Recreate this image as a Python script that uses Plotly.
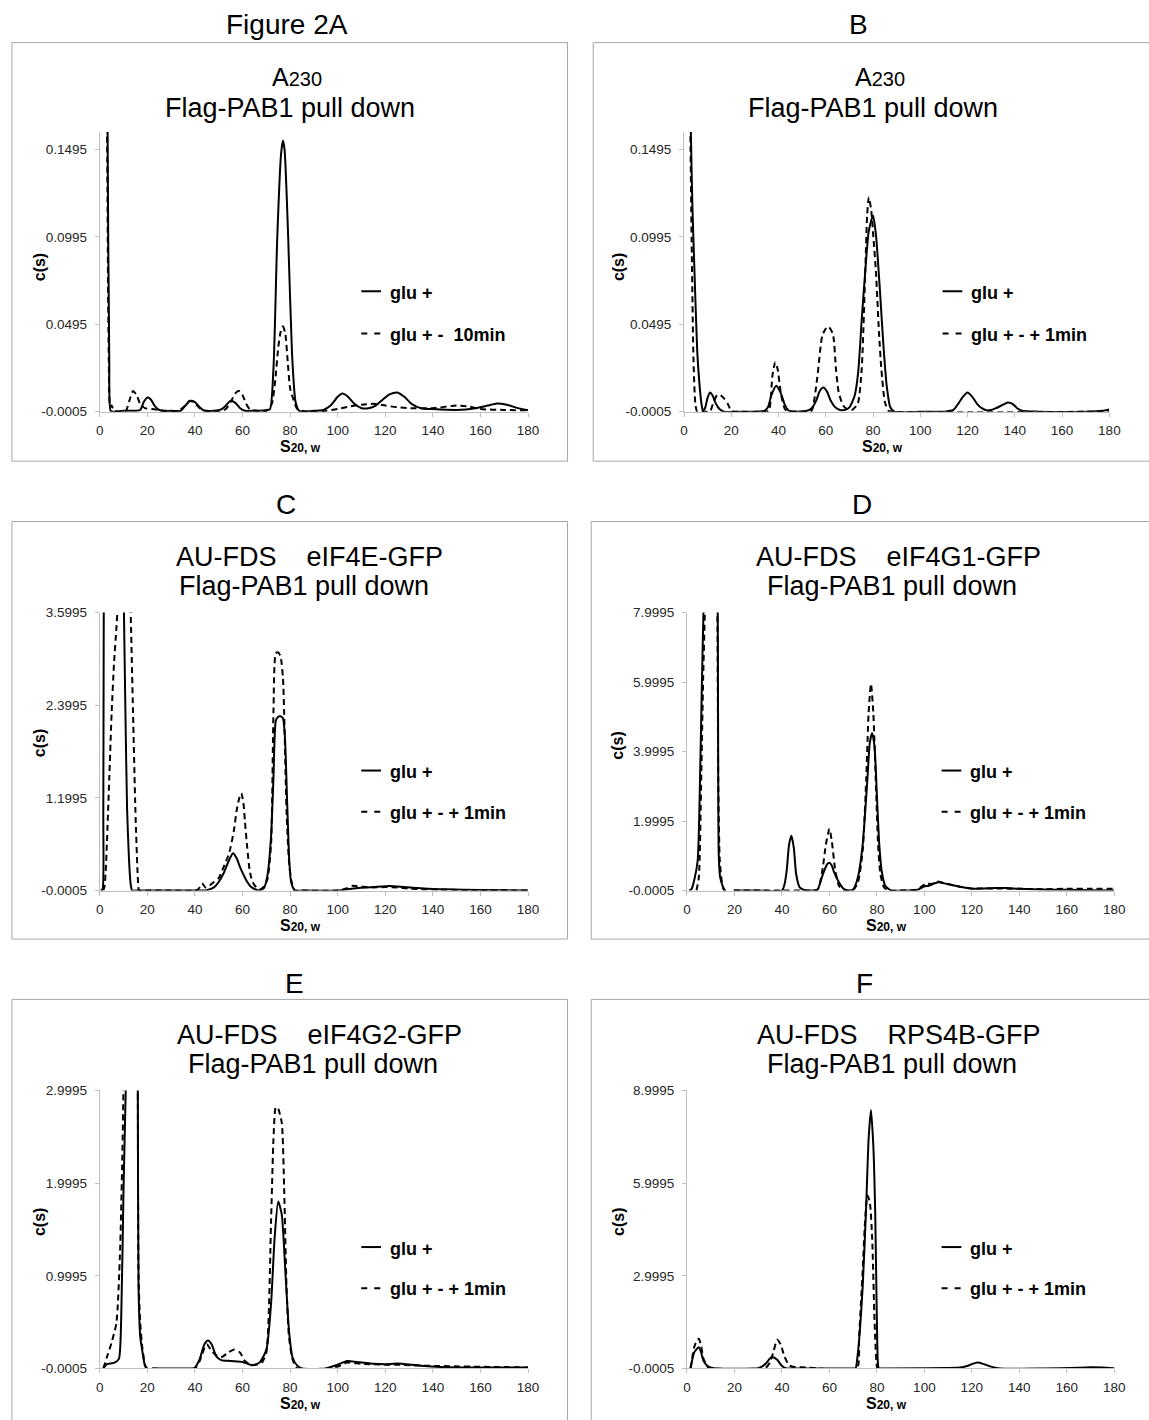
import plotly.graph_objects as go

# ---------------- data ----------------
X_TICKS = [0, 20, 40, 60, 80, 100, 120, 140, 160, 180]

# Panel A : A230, Flag-PAB1 pull down
A_YTICKS = [-0.0005, 0.0495, 0.0995, 0.1495]
A_YRANGE = [-0.0005, 0.1595]
A_glu_x = [2.8, 3.3, 4.0, 4.6, 6, 10, 15, 17, 18.5, 20, 21.5, 23, 25, 27, 30, 34, 36, 38, 40, 42, 44, 48, 51, 53, 55, 57, 59, 61, 65,
           69.5, 71.5, 73, 74.6, 76.2, 77, 77.7, 79.2, 80.8, 82.3, 83.8, 86, 90, 94, 97, 100, 102, 104, 107, 110, 113, 116, 119,
           122, 125, 128, 131, 135, 140, 150, 158, 163, 167, 171, 175, 180]
A_glu_y = [0.5, 0.16, 0.03, 0.0, -0.0005, 0.0, 0.0, 0.0005, 0.005, 0.0076, 0.0065, 0.003, 0.0005, -0.0003, 0.0, 0.0, 0.003, 0.0057,
           0.005, 0.002, 0.0, 0.0, 0.0008, 0.003, 0.0057, 0.0045, 0.0015, 0.0, 0.0,
           0.0003, 0.0008, 0.024, 0.099, 0.147, 0.1546, 0.149, 0.099, 0.033, 0.005, 0.0, -0.0005, 0.0, 0.0005, 0.003, 0.008,
           0.0099, 0.0085, 0.004, 0.0015, 0.0015, 0.003, 0.0065, 0.0095, 0.0105, 0.008, 0.004, 0.0015, 0.001, 0.0005, 0.0015,
           0.003, 0.0042, 0.0035, 0.0018, 0.0003]
A_10min_x = [2.6, 3.1, 3.8, 4.4, 5, 6, 8, 11, 12.5, 14, 15.5, 17, 19, 22, 25, 28, 33, 35.5, 37.5, 39.5, 42, 45, 50, 53, 55, 57, 58.5,
             60, 61.5, 63, 66, 70, 72.3, 73.8, 75, 76, 77, 78, 79, 80, 81.5, 83, 85, 88, 95, 100, 105, 110, 115, 120, 125, 130,
             140, 150, 155, 160, 170, 180]
A_10min_y = [0.5, 0.16, 0.03, 0.002, 0.003, 0.0, -0.0005, 0.0, 0.006, 0.0114, 0.009, 0.004, 0.0015, 0.001, 0.0005, 0.0, 0.0, 0.0025,
             0.0055, 0.005, 0.0015, 0.0, -0.0005, 0.001, 0.005, 0.010, 0.0114, 0.009, 0.004, 0.001, 0.0, 0.0, 0.004, 0.018,
             0.036, 0.045, 0.0483, 0.044, 0.028, 0.013, 0.006, 0.001, 0.0, -0.0005, 0.0, 0.001, 0.0025, 0.0035, 0.004, 0.003,
             0.002, 0.0015, 0.0015, 0.003, 0.0025, 0.001, 0.0005, 0.0003]

# Panel B : A230, Flag-PAB1 pull down
B_YTICKS = [-0.0005, 0.0495, 0.0995, 0.1495]
B_YRANGE = [-0.0005, 0.1595]
B_glu_x = [2.4, 2.9, 3.6, 4.4, 5.6, 6.5, 7.3, 8.0, 9, 10, 11, 12, 13.5, 15, 17, 25, 34, 35.5, 37, 39, 41, 42.5, 44, 46, 52, 54, 56,
           57.5, 59, 60.5, 62, 64, 66, 68, 70, 72.2, 73.7, 75.2, 76.7, 78.2, 80, 81.2, 82.8, 84.3, 85.8, 87.3, 89, 100, 110, 114,
           116, 118, 120, 122, 124, 126, 128, 130, 132, 135, 137, 139, 141, 143, 150, 170, 177, 180]
B_glu_y = [0.3, 0.16, 0.115, 0.081, 0.034, 0.016, 0.005, -0.0003, 0.002, 0.0075, 0.0105, 0.009, 0.004, 0.001, -0.0005, -0.0005,
           0.0, 0.002, 0.009, 0.0143, 0.010, 0.004, 0.0005, -0.0005, 0.0, 0.0015, 0.006, 0.0115, 0.0133, 0.011, 0.006, 0.002,
           0.0005, 0.0005, 0.002, 0.0086, 0.022, 0.052, 0.080, 0.103, 0.1117, 0.101, 0.071, 0.039, 0.014, 0.002, -0.0005,
           -0.0005, -0.0005, 0.0005, 0.004, 0.008, 0.0105, 0.008, 0.004, 0.0015, 0.0003, 0.0005, 0.0015, 0.0035, 0.0048, 0.004,
           0.0015, 0.0, -0.0005, -0.0005, 0.0, 0.0008]
B_1min_x = [2.2, 2.7, 3.3, 4.0, 4.8, 5.6, 8, 11, 12.5, 14, 15.5, 17, 18.5, 20, 22, 34, 35.9, 37.4, 38.6, 39.6, 41.1, 42.7, 44, 52, 54,
            56.3, 58.5, 60, 61.1, 63, 64.3, 65.4, 67.3, 69, 71, 73.5, 75.2, 76.7, 77.5, 78.2, 79.2, 80.2, 81.2, 82.5, 83.5, 85,
            86.5, 88, 180]
B_1min_y = [0.3, 0.16, 0.09, 0.03, 0.004, -0.0005, -0.0005, -0.0003, 0.005, 0.009, 0.0088, 0.007, 0.004, 0.0, -0.0005, -0.0005,
            0.0, 0.02, 0.0278, 0.024, 0.009, 0.001, 0.0, -0.0005, 0.0, 0.018, 0.043, 0.047, 0.0483, 0.044, 0.024, 0.011, 0.003,
            0.001, 0.0005, 0.004, 0.024, 0.08, 0.112, 0.1221, 0.115, 0.098, 0.08, 0.045, 0.024, 0.005, 0.0, -0.0005, -0.0005]

# Panel C : AU-FDS eIF4E-GFP
C_YTICKS = [-0.0005, 1.1995, 2.3995, 3.5995]
C_YRANGE = [-0.0005, 3.5995]
C_glu_x = [0.5, 1.2, 1.5, 1.8, 2.5, 5, 8, 10, 10.8, 11.5, 12.3, 13, 13.6, 15, 25, 40, 45, 48, 50, 52, 54, 56, 57.5, 59, 60.5, 62,
           63.5, 65, 67, 69, 70.5, 72, 73, 74, 75, 76, 77, 77.8, 78.8, 79.7, 80.5, 82, 85, 100, 105, 110, 115, 122, 128, 135, 145,
           160, 180]
C_glu_y = [0.0, 0.02, 1.0, 5.0, 8.0, 10.0, 9.0, 4.0, 2.3, 1.05, 0.4, 0.08, 0.0, -0.0005, 0.0, 0.0, 0.005, 0.04, 0.11, 0.22, 0.37,
           0.483, 0.42, 0.3, 0.2, 0.11, 0.05, 0.02, 0.0, 0.03, 0.2, 0.7, 1.45, 2.2, 2.25, 2.256, 2.23, 2.0, 1.1, 0.35, 0.1, 0.0,
           -0.0005, 0.0, 0.02, 0.035, 0.045, 0.059, 0.045, 0.03, 0.015, 0.008, 0.002]
C_1min_x = [1.5, 2, 2.5, 3, 4, 5, 6, 7, 7.5, 8.5, 10.5, 12.5, 13, 14, 15, 16, 16.5, 17.5, 30, 40, 41.5, 43, 44.5, 46, 48, 50, 52,
            54, 55, 56.5, 57.5, 58.5, 59.5, 60.5, 61, 62, 63, 64, 65, 67, 69, 70.5, 72, 73, 74, 75, 76, 77, 77.5, 78.5, 79.5, 80.5,
            82, 85, 100, 104, 106, 110, 115, 120, 125, 130, 140, 160, 180]
C_1min_y = [0.0, 0.05, 0.25, 0.6, 1.45, 2.3, 2.94, 3.4, 3.65, 4.5, 5.0, 4.2, 3.6, 2.3, 1.03, 0.17, 0.0, -0.0005, 0.0, 0.0, 0.02,
            0.09, 0.04, 0.06, 0.11, 0.16, 0.30, 0.45, 0.56, 0.8, 1.03, 1.18, 1.26, 1.1, 0.9, 0.55, 0.26, 0.13, 0.07, 0.01, 0.05,
            0.15, 0.6, 2.3, 3.07, 3.083, 3.03, 2.75, 2.3, 1.03, 0.39, 0.13, 0.0, -0.0005, 0.0, 0.03, 0.06, 0.05, 0.04, 0.045,
            0.04, 0.025, 0.012, 0.005, 0.0]

# Panel D : AU-FDS eIF4G1-GFP
D_YTICKS = [-0.0005, 1.9995, 3.9995, 5.9995, 7.9995]
D_YRANGE = [-0.0005, 7.9995]
D_glu_x = [1, 2, 3, 4.5, 5.5, 6.3, 7, 8, 10, 12, 12.8, 13.1, 13.4, 14, 15, 16, 16.5, None, 19.7, 30, 40, 41, 42, 43, 44, 45, 46,
           47.5, 50, 52, 55, 57, 59, 60, 61, 62, 64, 66, 68, 70, 72, 74, 76, 77, 78, 79, 80, 81, 82, 83.5, 86, 90, 97, 100, 102,
           104, 106, 110, 115, 120, 125, 130, 135, 140, 150, 160, 170, 180]
D_glu_y = [-0.0005, 0.05, 0.28, 0.85, 3.2, 6.0, 8.2, 11.0, 13.0, 12.0, 10.0, 5.0, 1.0, 0.37, 0.14, 0.0, -0.0005, None, -0.0005,
           0.0, 0.0, 0.15, 0.57, 1.32, 1.577, 1.23, 0.47, 0.09, 0.0, -0.0005, 0.03, 0.42, 0.75, 0.80, 0.72, 0.52, 0.24, 0.05,
           0.0, 0.03, 0.38, 1.32, 3.21, 4.25, 4.53, 4.15, 2.74, 1.32, 0.57, 0.14, 0.0, -0.0005, 0.02, 0.12, 0.14, 0.2, 0.24,
           0.18, 0.11, 0.05, 0.06, 0.075, 0.07, 0.05, 0.03, 0.02, 0.01, 0.0]
D_1min_x = [4, 5, 6, 6.8, 7.5, 8.5, 10.5, 12.5, 13.2, 13.8, 14.5, 15.3, 16, None, 19.7, 40, 50, 55, 57, 58.5, 60, 61, 62.5, 64, 66,
            70, 72, 74, 75.5, 76.5, 77.5, 78.5, 79.5, 80.5, 81.5, 83, 85, 90, 97, 101, 103, 105, 108, 115, 120, 130, 140, 150,
            160, 170, 180]
D_1min_y = [-0.0005, 0.38, 3.2, 6.04, 7.93, 11.0, 13.0, 10.0, 3.0, 0.9, 0.35, 0.05, -0.0005, None, -0.0005, 0.0, 0.0, 0.03, 0.57,
            1.32, 1.775, 1.42, 0.57, 0.14, 0.0, 0.02, 0.24, 1.13, 3.21, 5.1, 5.95, 5.1, 3.21, 1.32, 0.47, 0.09, 0.0, -0.0005,
            0.03, 0.21, 0.18, 0.26, 0.22, 0.11, 0.06, 0.06, 0.05, 0.04, 0.05, 0.05, 0.05]

# Panel E : AU-FDS eIF4G2-GFP
E_YTICKS = [-0.0005, 0.9995, 1.9995, 2.9995]
E_YRANGE = [-0.0005, 2.9995]
E_glu_x = [1.5, 3, 6, 8, 9, 10, 11, 12, 14, 15.5, 16, 16.3, 17, 18, 19, 20, None, 22, 30, 39, 40, 42, 44, 45.5, 47, 49, 51, 55,
           60, 64, 67, 70, 72, 73.5, 75, 76.5, 78, 79.5, 81, 83, 85, 95, 100, 104, 108, 115, 120, 125, 135, 150, 165, 180]
E_glu_y = [-0.0005, 0.046, 0.06, 0.1, 0.52, 1.94, 3.1, 5.0, 6.0, 5.0, 3.0, 0.88, 0.35, 0.17, 0.03, -0.0005, None, -0.0005,
           -0.0005, 0.0, 0.01, 0.1, 0.26, 0.30, 0.26, 0.13, 0.09, 0.08, 0.07, 0.035, 0.06, 0.2, 0.7, 1.41, 1.80, 1.66, 1.05,
           0.42, 0.12, 0.03, -0.0005, -0.0005, 0.04, 0.08, 0.07, 0.05, 0.045, 0.053, 0.03, 0.01, 0.01, 0.01]
E_1min_x = [1.5, 3, 5, 7, 8.5, 9.5, 10, 11, 13, 15.5, 16, 16.3, 17, 18, 19.5, 20, None, 22, 40, 42, 44, 45, 47, 49, 51, 54, 56.5,
            59, 61, 64, 68, 70, 72, 73, 74, 75, 76.5, 77.5, 78.5, 79.5, 81, 83, 95, 100, 104, 110, 120, 125, 135, 180]
E_1min_y = [-0.0005, 0.12, 0.28, 0.49, 1.23, 2.29, 3.1, 5.0, 6.0, 5.0, 3.0, 1.0, 0.5, 0.2, 0.0, -0.0005, None, -0.0005, 0.0,
            0.08, 0.22, 0.26, 0.19, 0.14, 0.12, 0.17, 0.205, 0.17, 0.08, 0.035, 0.06, 0.17, 1.59, 2.47, 2.82, 2.80, 2.65, 1.94,
            0.88, 0.35, 0.1, 0.0, -0.0005, 0.02, 0.064, 0.05, 0.04, 0.04, 0.03, 0.01]

# Panel F : AU-FDS RPS4B-GFP
F_YTICKS = [-0.0005, 2.9995, 5.9995, 8.9995]
F_YRANGE = [-0.0005, 8.9995]
F_glu_x = [1.5, 3, 4, 5, 6, 7, 9, 12, 28, 30, 33, 35, 36, 38, 40, 42, 45, 70, 71, 72, 74, 75.5, 76.5, 77.5, 78.5, 79.3, 79.9, 80.4,
           80.8, 82, 115, 118, 120, 122.5, 125, 128, 132, 150, 165, 170, 175, 180]
F_glu_y = [-0.0005, 0.51, 0.62, 0.69, 0.51, 0.24, 0.06, -0.0005, -0.0005, 0.01, 0.14, 0.33, 0.37, 0.28, 0.08, 0.0, -0.0005,
           -0.0005, 0.0, 0.51, 2.63, 5.29, 7.41, 8.37, 7.2, 5.0, 2.0, 0.2, -0.0005, -0.0005, 0.03, 0.08, 0.14, 0.19, 0.14, 0.06,
           0.0, -0.0005, 0.02, 0.04, 0.03, 0.0]
F_1min_x = [1.5, 3, 4, 5, 6, 7, 9, 12, 33, 35, 36.5, 38, 39.5, 41, 43, 45, 50, 55, 71.5, 72.5, 74, 75, 76, 77, 78, 79, 79.8, 80.3,
            180]
F_1min_y = [-0.0005, 0.67, 0.88, 0.96, 0.72, 0.30, 0.03, -0.0005, 0.01, 0.2, 0.56, 0.93, 0.77, 0.40, 0.1, 0.05, 0.03, 0.0,
            -0.0005, 1.04, 3.16, 4.75, 5.6, 5.39, 4.22, 1.57, 0.2, -0.0005, -0.0005]

SP = "\u00a0" * 4
PANEL_LABELS = ["Figure 2A", "B", "C", "D", "E", "F"]
TITLE_LINE1 = ["A<span style='font-size:20px'>230</span>", "A<span style='font-size:20px'>230</span>",
               "AU-FDS" + SP + "eIF4E-GFP", "AU-FDS" + SP + "eIF4G1-GFP",
               "AU-FDS" + SP + "eIF4G2-GFP", "AU-FDS" + SP + "RPS4B-GFP"]
TITLE_LINE2 = "Flag-PAB1 pull down"
LEG_SOLID = "glu +"
LEG_DASH = ["glu + -\u00a0 10min", "glu + - + 1min", "glu + - + 1min", "glu + - + 1min", "glu + - + 1min", "glu + - + 1min"]

SERIES = [
    (A_glu_x, A_glu_y, A_10min_x, A_10min_y, A_YTICKS, A_YRANGE),
    (B_glu_x, B_glu_y, B_1min_x, B_1min_y, B_YTICKS, B_YRANGE),
    (C_glu_x, C_glu_y, C_1min_x, C_1min_y, C_YTICKS, C_YRANGE),
    (D_glu_x, D_glu_y, D_1min_x, D_1min_y, D_YTICKS, D_YRANGE),
    (E_glu_x, E_glu_y, E_1min_x, E_1min_y, E_YTICKS, E_YRANGE),
    (F_glu_x, F_glu_y, F_1min_x, F_1min_y, F_YTICKS, F_YRANGE),
]

# ---------------- layout (pixel geometry of the page) ----------------
W, H = 1149, 1420
FONT = "Liberation Sans, Arial, sans-serif"

LAYOUT_PX = [
    dict(px=(97, 531), py=(126.3, 409), box=(8, 36, 571, 459), lab=(287, 17.5), t1=(297, 71), t2=(290, 102),
         leg=(362, 382, 389, 287.3, 330), ylab=(35.5, 263), xlab=(300, 444)),
    dict(px=(689, 1120), py=(126.3, 409), box=(597, 36, 1170, 459), lab=(866, 17.5), t1=(887.5, 71), t2=(881, 102),
         leg=(951, 971, 978, 287.3, 330), ylab=(622, 263), xlab=(890.5, 444)),
    dict(px=(97, 531), py=(612, 893), box=(8, 520, 571, 942), lab=(286, 503), t1=(310, 556), t2=(304, 585),
         leg=(362, 382, 389, 771.7, 813.3), ylab=(35.5, 744), xlab=(300, 928)),
    dict(px=(692, 1125), py=(612, 893), box=(595, 520, 1170, 942), lab=(869, 503), t1=(906.6, 556), t2=(900, 585),
         leg=(950, 970, 977, 771.7, 813.3), ylab=(622, 746.7), xlab=(894.5, 928)),
    dict(px=(97, 531), py=(1095, 1376), box=(8, 1003, 571, 1440), lab=(294, 987), t1=(319.7, 1039), t2=(313, 1068.3),
         leg=(362, 382, 389, 1253.3, 1295), ylab=(35.5, 1228), xlab=(300, 1411)),
    dict(px=(692, 1125), py=(1095, 1376), box=(595, 1003, 1170, 1440), lab=(872, 987), t1=(906.6, 1039), t2=(900, 1068.3),
         leg=(950, 970, 977, 1253.3, 1295), ylab=(622, 1228), xlab=(894.5, 1411)),
]


def fx(p):
    return p / W


def fy(p):
    return 1 - p / H


def fmt(v):
    return f"{v:.4f}"


fig = go.Figure()
shapes = []
annotations = []
AXC = "#bfbfbf"
TICKC = "#262626"

for i, (sx, sy, dx, dy, yt, yr) in enumerate(SERIES):
    n = i + 1
    xa = "x" if n == 1 else f"x{n}"
    ya = "y" if n == 1 else f"y{n}"
    L = LAYOUT_PX[i]
    fig.add_trace(go.Scatter(x=sx, y=sy, xaxis=xa, yaxis=ya, mode="lines",
                             line=dict(color="black", width=2, shape="spline", smoothing=0.6),
                             showlegend=False, hoverinfo="skip"))
    fig.add_trace(go.Scatter(x=dx, y=dy, xaxis=xa, yaxis=ya, mode="lines",
                             line=dict(color="black", width=2, dash="6px,4px", shape="spline", smoothing=0.6),
                             showlegend=False, hoverinfo="skip"))
    xkey = "xaxis" if n == 1 else f"xaxis{n}"
    ykey = "yaxis" if n == 1 else f"yaxis{n}"
    fig.update_layout(**{
        xkey: dict(domain=[fx(L["px"][0]), fx(L["px"][1])], anchor=ya, range=[0, 180], tickvals=X_TICKS,
                   showline=True, linecolor=AXC, linewidth=1, ticks="outside", ticklen=4, tickcolor=AXC,
                   showgrid=False, zeroline=False, tickfont=dict(family=FONT, size=13.5, color=TICKC),
                   ticklabelstandoff=2, fixedrange=True),
        ykey: dict(domain=[fy(L["py"][1]), fy(L["py"][0])], anchor=xa, range=yr, tickvals=yt,
                   ticktext=[fmt(v) for v in yt], showline=True, linecolor=AXC, linewidth=1, ticks="outside",
                   ticklen=4, tickcolor=AXC, showgrid=False, zeroline=False,
                   tickfont=dict(family=FONT, size=13.5, color=TICKC), ticklabelstandoff=5, fixedrange=True),
    })
    bl, bt, br, bb = L["box"]
    shapes.append(dict(type="rect", xref="paper", yref="paper", x0=fx(bl), x1=fx(br), y0=fy(bb), y1=fy(bt),
                       line=dict(color="#a6a6a6", width=1), fillcolor="rgba(0,0,0,0)", layer="below"))
    lx0, lx1, tx, y1, y2 = L["leg"]
    shapes.append(dict(type="line", xref="paper", yref="paper", x0=fx(lx0), x1=fx(lx1), y0=fy(y1), y1=fy(y1),
                       line=dict(color="black", width=2)))
    shapes.append(dict(type="line", xref="paper", yref="paper", x0=fx(lx0), x1=fx(lx1), y0=fy(y2), y1=fy(y2),
                       line=dict(color="black", width=2, dash="6px,7px")))
    common = dict(xref="paper", yref="paper", showarrow=False)
    annotations.append(dict(text=LEG_SOLID, x=fx(tx), y=fy(y1 + 1.5), xanchor="left", yanchor="middle",
                            font=dict(family=FONT, size=18, color="black", weight="bold"), **common))
    annotations.append(dict(text=LEG_DASH[i], x=fx(tx), y=fy(y2 + 1.0), xanchor="left", yanchor="middle",
                            font=dict(family=FONT, size=18, color="black", weight="bold"), **common))
    annotations.append(dict(text=PANEL_LABELS[i], x=fx(L["lab"][0]), y=fy(L["lab"][1]), xanchor="center",
                            yanchor="middle", font=dict(family=FONT, size=28, color="black"), **common))
    annotations.append(dict(text=TITLE_LINE1[i], x=fx(L["t1"][0]), y=fy(L["t1"][1]), xanchor="center",
                            yanchor="middle", font=dict(family=FONT, size=(25 if i < 2 else 27), color="black"),
                            **common))
    annotations.append(dict(text=TITLE_LINE2, x=fx(L["t2"][0]), y=fy(L["t2"][1]), xanchor="center",
                            yanchor="middle", font=dict(family=FONT, size=27, color="black"), **common))
    annotations.append(dict(text="<b>c(s)</b>", x=fx(L["ylab"][0]), y=fy(L["ylab"][1]), xanchor="center",
                            yanchor="middle", textangle=-90, font=dict(family=FONT, size=16, color="black"), **common))
    annotations.append(dict(text="<b>S<span style='font-size:12px'>20, w</span></b>", x=fx(L["xlab"][0]),
                            y=fy(L["xlab"][1]), xanchor="center", yanchor="middle",
                            font=dict(family=FONT, size=16, color="black"), **common))

fig.update_layout(width=W, height=H, margin=dict(l=0, r=0, t=0, b=0), paper_bgcolor="white", plot_bgcolor="white",
                  shapes=shapes, annotations=annotations, showlegend=False)

# remove the default page margin so the figure sits at the top-left corner of the window; no mode bar
fig.write_html("out.html", config={"displayModeBar": False},
               post_script="document.body.style.margin='0px';document.body.style.overflow='hidden';")
